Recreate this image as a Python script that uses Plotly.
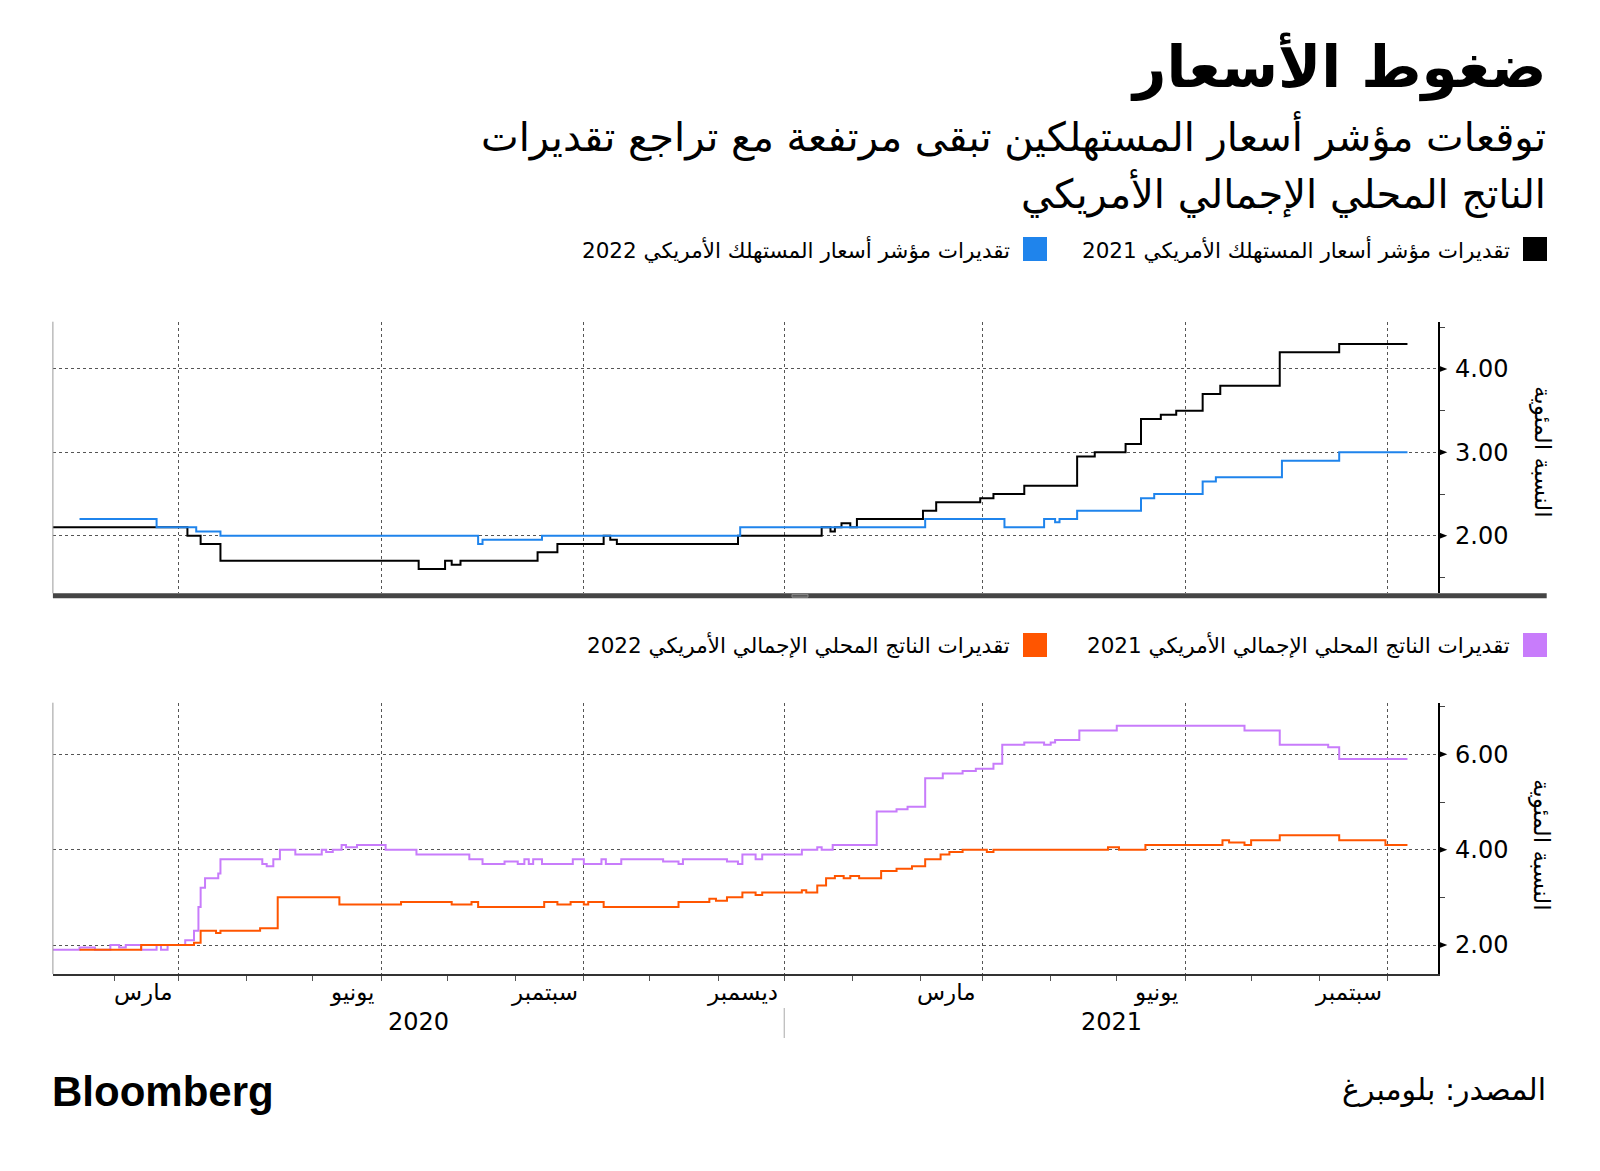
import plotly.graph_objects as go
import pandas as pd

# ---------------- DATA ----------------
cpi21_dates = ["2020-01-03", "2020-03-05", "2020-03-11", "2020-03-20", "2020-06-18", "2020-06-30",
               "2020-07-03", "2020-07-07", "2020-08-11", "2020-08-20", "2020-09-10", "2020-09-13",
               "2020-09-16", "2020-11-10", "2020-12-18", "2020-12-22", "2020-12-24", "2020-12-27",
               "2020-12-31", "2021-01-03", "2021-02-02", "2021-02-08", "2021-02-28", "2021-03-06",
               "2021-03-20", "2021-04-13", "2021-04-21", "2021-05-05", "2021-05-12", "2021-05-21",
               "2021-05-28", "2021-06-09", "2021-06-17", "2021-07-14", "2021-08-10", "2021-09-10"]
cpi21_values = [2.1, 2.0, 1.9, 1.7, 1.6, 1.7,
                1.65, 1.7, 1.8, 1.9, 2.0, 1.95,
                1.9, 2.0, 2.1, 2.05, 2.1, 2.15,
                2.1, 2.2, 2.3, 2.4, 2.45, 2.5,
                2.6, 2.95, 3.0, 3.1, 3.4, 3.45,
                3.5, 3.7, 3.8, 4.2, 4.3, 4.3]

cpi22_dates = ["2020-01-16", "2020-02-20", "2020-03-09", "2020-03-20", "2020-07-15", "2020-07-17",
               "2020-08-13", "2020-11-11", "2021-02-03", "2021-03-11", "2021-03-29", "2021-04-03",
               "2021-04-05", "2021-04-13", "2021-05-12", "2021-05-18", "2021-06-09", "2021-06-15",
               "2021-07-15", "2021-08-10", "2021-09-10"]
cpi22_values = [2.2, 2.1, 2.05, 2.0, 1.9, 1.95,
                2.0, 2.1, 2.2, 2.1, 2.2, 2.16,
                2.2, 2.3, 2.45, 2.5, 2.65, 2.7,
                2.9, 3.0, 3.0]

gdp21_dates = ["2020-01-03", "2020-01-16", "2020-01-23", "2020-01-30", "2020-02-03", "2020-02-06",
               "2020-02-13", "2020-02-20", "2020-02-22", "2020-02-25", "2020-03-04", "2020-03-08",
               "2020-03-10", "2020-03-11", "2020-03-13", "2020-03-19", "2020-03-20", "2020-04-08",
               "2020-04-10", "2020-04-13", "2020-04-16", "2020-04-23", "2020-05-05", "2020-05-07",
               "2020-05-10", "2020-05-14", "2020-05-16", "2020-05-21", "2020-06-03", "2020-06-17",
               "2020-07-11", "2020-07-17", "2020-07-27", "2020-08-02", "2020-08-05", "2020-08-07",
               "2020-08-09", "2020-08-13", "2020-08-27", "2020-09-01", "2020-09-09", "2020-09-11",
               "2020-09-18", "2020-10-07", "2020-10-14", "2020-10-16", "2020-11-05", "2020-11-10",
               "2020-11-12", "2020-11-18", "2020-11-21", "2020-12-09", "2020-12-16", "2020-12-18",
               "2020-12-23", "2021-01-12", "2021-01-21", "2021-01-26", "2021-02-03", "2021-02-11",
               "2021-02-20", "2021-02-26", "2021-03-06", "2021-03-10", "2021-03-20", "2021-03-29",
               "2021-04-01", "2021-04-03", "2021-04-14", "2021-05-01", "2021-06-28", "2021-07-14",
               "2021-08-05", "2021-08-10", "2021-09-10"]
gdp21_values = [1.9, 1.95, 1.9, 2.0, 1.95, 2.0,
                1.9, 2.0, 1.9, 2.0, 2.1, 2.3,
                2.8, 3.2, 3.4, 3.5, 3.8, 3.7,
                3.65, 3.8, 4.0, 3.9, 4.0, 3.95,
                4.0, 4.1, 4.05, 4.1, 4.0, 3.9,
                3.8, 3.7, 3.75, 3.7, 3.8, 3.7,
                3.8, 3.7, 3.8, 3.7, 3.8, 3.7,
                3.8, 3.75, 3.7, 3.8, 3.75, 3.7,
                3.9, 3.8, 3.9, 4.0, 4.05, 4.0,
                4.1, 4.8, 4.85, 4.9, 5.5, 5.6,
                5.65, 5.7, 5.8, 6.2, 6.25, 6.2,
                6.25, 6.3, 6.5, 6.6, 6.5, 6.2,
                6.15, 5.9, 5.9]

gdp22_dates = ["2020-01-16", "2020-02-13", "2020-03-08", "2020-03-11", "2020-03-18", "2020-03-20",
               "2020-04-07", "2020-04-15", "2020-05-13", "2020-06-10", "2020-07-03", "2020-07-12",
               "2020-07-15", "2020-08-14", "2020-08-20", "2020-08-26", "2020-09-01", "2020-09-03",
               "2020-09-10", "2020-10-14", "2020-10-28", "2020-10-31", "2020-11-05", "2020-11-12",
               "2020-11-18", "2020-11-21", "2020-12-09", "2020-12-11", "2020-12-16", "2020-12-20",
               "2020-12-24", "2020-12-28", "2020-12-31", "2021-01-04", "2021-01-14", "2021-01-21",
               "2021-01-28", "2021-02-03", "2021-02-10", "2021-02-14", "2021-02-20", "2021-03-03",
               "2021-03-06", "2021-04-27", "2021-05-02", "2021-05-14", "2021-06-18", "2021-06-21",
               "2021-06-28", "2021-07-01", "2021-07-14", "2021-08-10", "2021-08-31", "2021-09-10"]
gdp22_values = [1.9, 2.0, 2.05, 2.3, 2.25, 2.3,
                2.35, 3.0, 2.85, 2.9, 2.85, 2.9,
                2.8, 2.9, 2.85, 2.9, 2.85, 2.9,
                2.8, 2.9, 2.97, 2.93, 3.0, 3.1,
                3.05, 3.1, 3.15, 3.1, 3.25, 3.4,
                3.45, 3.4, 3.45, 3.4, 3.55, 3.6,
                3.65, 3.8, 3.9, 3.95, 4.0, 3.95,
                4.0, 4.05, 4.0, 4.1, 4.2, 4.15,
                4.1, 4.2, 4.3, 4.2, 4.1, 4.1]

tick_dates = ["2020-03-01", "2020-06-01", "2020-09-01", "2020-12-01", "2021-03-01", "2021-06-01", "2021-09-01"]
tick_labels = ["مارس", "يونيو", "سبتمبر", "ديسمبر", "مارس", "يونيو", "سبتمبر"]
year_labels = ["2020", "2021"]
year_split = "2020-12-01"
x_range = ["2020-01-03 22:00", "2021-09-24"]

top_ticks = [2, 3, 4]
bottom_ticks = [2, 4, 6]

title = "ضغوط الأسعار"
subtitle1 = "توقعات مؤشر أسعار المستهلكين تبقى مرتفعة مع تراجع تقديرات"
subtitle2 = "الناتج المحلي الإجمالي الأمريكي"
names = ["تقديرات مؤشر أسعار المستهلك الأمريكي 2021",
         "تقديرات مؤشر أسعار المستهلك الأمريكي 2022",
         "تقديرات الناتج المحلي الإجمالي الأمريكي 2021",
         "تقديرات الناتج المحلي الإجمالي الأمريكي 2022"]
colors = ["#000000", "#1f84ec", "#c87cfb", "#ff5500"]
y_title = "النسبة المئوية"
source = "المصدر: بلومبرغ"

# ---------------- LAYOUT HELPERS ----------------
W, H = 1600, 1171
px = lambda x: x / W
py = lambda y: 1 - y / H
AR = "DejaVu Sans"

fig = go.Figure()
series = [(cpi21_dates, cpi21_values, "x", "y"), (cpi22_dates, cpi22_values, "x", "y"),
          (gdp21_dates, gdp21_values, "x2", "y2"), (gdp22_dates, gdp22_values, "x2", "y2")]
for (d, v, xa, ya), c, n in zip(series, colors, names):
    fig.add_trace(go.Scatter(x=d, y=v, mode="lines", line=dict(color=c, width=2, shape="hv"),
                             name=n, xaxis=xa, yaxis=ya, hoverinfo="x+y"))

grid = dict(showgrid=True, gridcolor="#555", griddash="dot", gridwidth=1)
xcommon = dict(type="date", range=x_range, dtick="M3", tick0="2020-03-01", zeroline=False, **grid)

fig.update_layout(
    width=W, height=H, margin=dict(l=0, r=0, t=0, b=0),
    paper_bgcolor="white", plot_bgcolor="white", showlegend=False,
    font=dict(family=AR, color="#000"),
    xaxis=dict(domain=[px(52.9), px(1438.3)], anchor="y", showticklabels=False, ticks="",
               showline=False, automargin=False, **xcommon),
    yaxis=dict(domain=[py(593.3), py(321.7)], anchor="x", side="right", range=[1.309, 4.567],
               tickvals=top_ticks, tickformat=".2f", ticks="outside", ticklen=10,
               tickcolor="rgba(0,0,0,0)", showline=True, linecolor="#000", linewidth=2,
               tickfont=dict(family="DejaVu Sans", size=24, color="#000"), zeroline=False,
               minor=dict(dtick=0.5, tick0=0, ticks="outside", ticklen=5, tickcolor="#444",
                          tickwidth=1, showgrid=False),
               automargin=False, **grid),
    xaxis2=dict(domain=[px(52.9), px(1438.3)], anchor="y2", showticklabels=False,
                ticks="outside", ticklen=5, tickcolor="#555", tickwidth=1,
                showline=True, linecolor="#333", linewidth=1.5,
                minor=dict(dtick="M1", tick0="2020-02-01", ticks="outside", ticklen=5,
                           tickcolor="#555", tickwidth=1, showgrid=False),
                automargin=False, **xcommon),
    yaxis2=dict(domain=[py(974), py(702.7)], anchor="x2", side="right", range=[1.392, 7.083],
                tickvals=bottom_ticks, tickformat=".2f", ticks="outside", ticklen=10,
                tickcolor="rgba(0,0,0,0)", showline=True, linecolor="#000", linewidth=2,
                tickfont=dict(family="DejaVu Sans", size=24, color="#000"), zeroline=False,
                minor=dict(dtick=1, tick0=0, ticks="outside", ticklen=5, tickcolor="#444",
                           tickwidth=1, showgrid=False),
                automargin=False, **grid),
)

shapes = []
# tick triangles on right axes
for ya, xa, vals, h in [("y", "x", top_ticks, 3.5 / 83.35), ("y2", "x2", bottom_ticks, 3.5 / 47.675)]:
    w = 9 / (1438.3 - 52.9)
    for v in vals:
        shapes.append(dict(type="path", xref=f"{xa} domain", yref=ya,
                           path=f"M 1 {v - h} L {1 + w} {v} L 1 {v + h} Z",
                           fillcolor="#000", line=dict(width=0)))
# left borders
shapes.append(dict(type="line", xref="x domain", yref="y domain", x0=0, x1=0, y0=0, y1=1,
                   line=dict(color="#999", width=1)))
shapes.append(dict(type="line", xref="x2 domain", yref="y2 domain", x0=0, x1=0, y0=0, y1=1,
                   line=dict(color="#999", width=1)))
# dark separator bar under top panel
shapes.append(dict(type="rect", xref="paper", yref="paper", x0=px(52.9), x1=px(1546.7),
                   y0=py(598.3), y1=py(593.3), fillcolor="#454545", line=dict(width=0)))
shapes.append(dict(type="rect", xref="paper", yref="paper", x0=px(792), x1=px(808),
                   y0=py(597.2), y1=py(594.4), fillcolor="#5a5a5a", line=dict(color="#8a8a8a", width=1)))
# legend squares
for xs, ys, c in [(1523, 237, colors[0]), (1023, 237, colors[1]), (1523, 633, colors[2]), (1023, 633, colors[3])]:
    shapes.append(dict(type="rect", xref="paper", yref="paper", x0=px(xs), x1=px(xs + 24),
                       y0=py(ys + 24), y1=py(ys), fillcolor=c, line=dict(width=0)))
# year separator
shapes.append(dict(type="line", xref="x2", yref="paper", x0=year_split, x1=year_split,
                   y0=py(1038), y1=py(1008), line=dict(color="#aaa", width=1)))
fig.update_layout(shapes=shapes)

ann = []
ann.append(dict(text=f"<b>{title}</b>", x=px(1549), y=py(67), xanchor="right", yanchor="middle",
                font=dict(family=AR, size=58, color="#000")))
ann.append(dict(text=subtitle1, x=px(1548), y=py(136), xanchor="right", yanchor="middle",
                font=dict(family=AR, size=40, color="#000")))
ann.append(dict(text=subtitle2, x=px(1548), y=py(193), xanchor="right", yanchor="middle",
                font=dict(family=AR, size=40, color="#000")))
for xr, yc, n in [(1512, 249, names[0]), (1012, 249, names[1]), (1512, 645, names[2]), (1012, 645, names[3])]:
    ann.append(dict(text=n, x=px(xr), y=py(yc), xanchor="right", yanchor="middle",
                    font=dict(family=AR, size=21.5, color="#000")))
for ya, yc in [("y", 452), ("y2", 845)]:
    ann.append(dict(text=y_title, x=px(1542), y=py(yc), xanchor="center", yanchor="middle",
                    textangle=90, font=dict(family=AR, size=23, color="#000")))
for d, t in zip(tick_dates, tick_labels):
    ann.append(dict(text=t, x=d, xref="x2", y=py(992), yref="paper", xanchor="right",
                    yanchor="middle", xshift=-4, font=dict(family=AR, size=23, color="#000")))
xs = pd.to_datetime(x_range[0]); xe = pd.to_datetime(x_range[1]); sp = pd.to_datetime(year_split)
for lab, (a, b) in zip(year_labels, [(xs, sp), (sp, xe)]):
    mid = a + (b - a) / 2
    ann.append(dict(text=lab, x=mid.strftime("%Y-%m-%d %H:%M"), xref="x2", y=py(1022), yref="paper",
                    xanchor="center", yanchor="middle", font=dict(family=AR, size=24, color="#000")))
ann.append(dict(text=source, x=px(1548), y=py(1089), xanchor="right", yanchor="middle",
                font=dict(family=AR, size=30, color="#000")))
ann.append(dict(text="<b>Bloomberg</b>", x=px(50), y=py(1091), xanchor="left", yanchor="middle",
                font=dict(family="Liberation Sans", size=42, color="#000")))
for a in ann:
    a.setdefault("xref", "paper"); a.setdefault("yref", "paper"); a["showarrow"] = False
fig.update_layout(annotations=ann)

fig.write_html("out.html", config={"displayModeBar": False},
               post_script="document.body.style.margin='0';document.body.style.overflow='hidden';")
